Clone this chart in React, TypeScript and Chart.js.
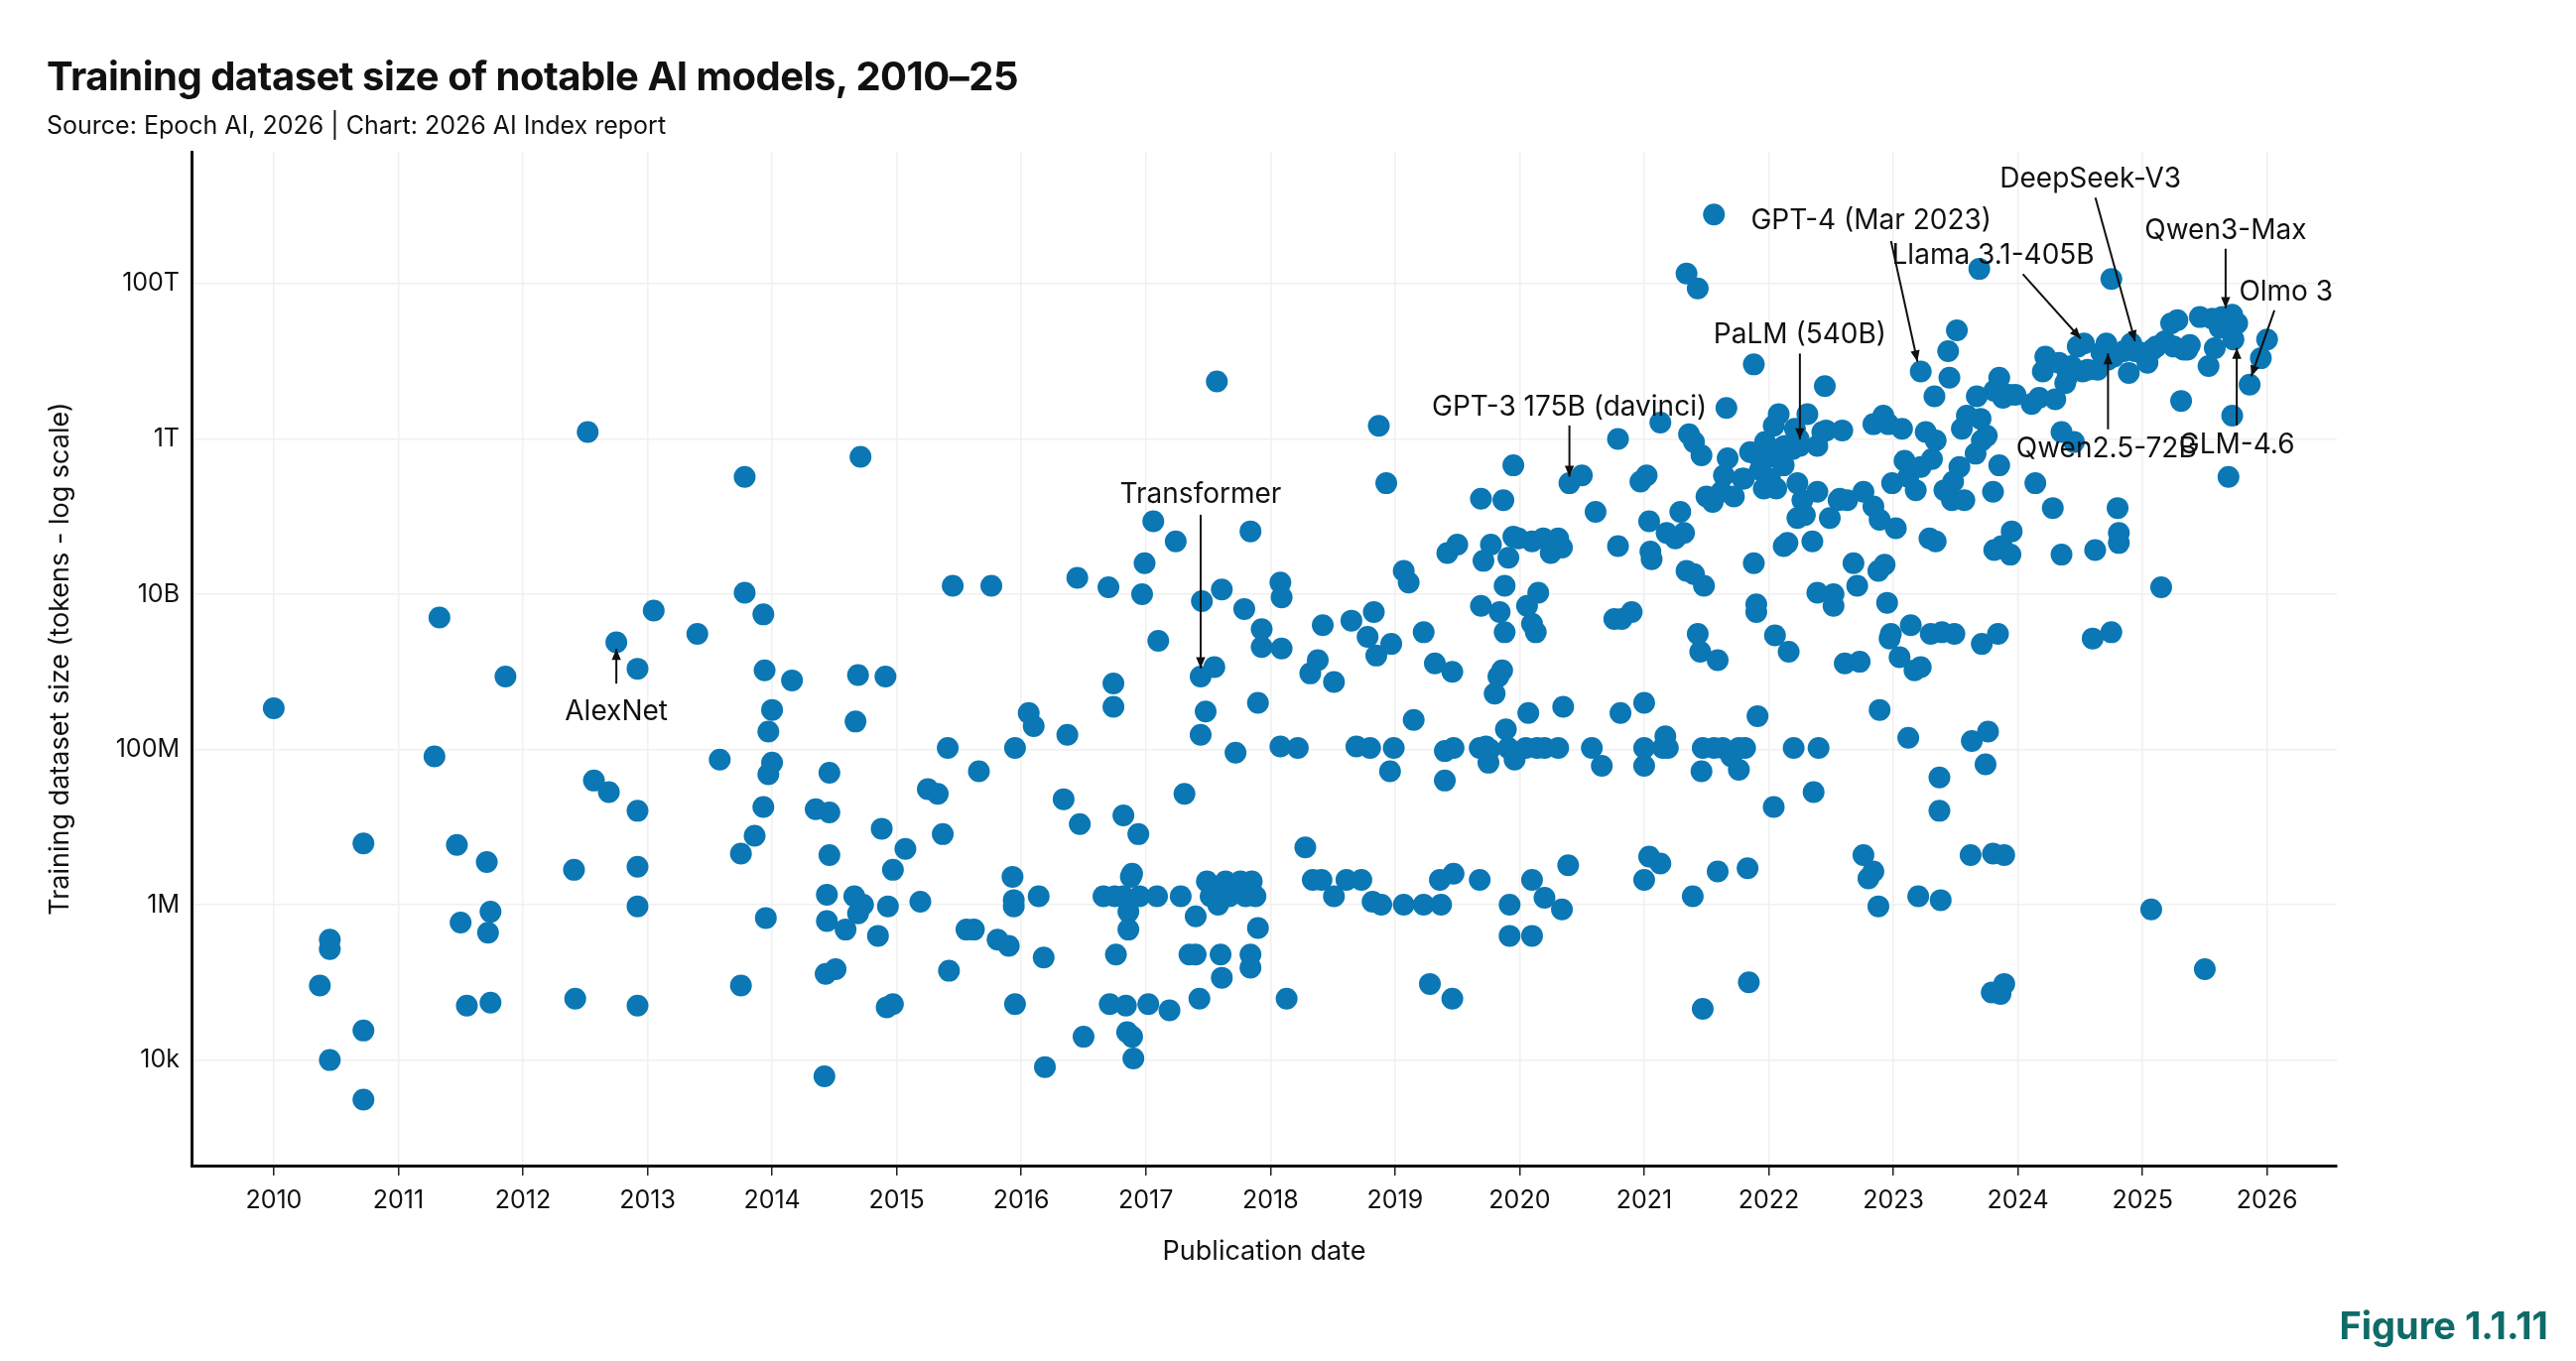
import React, { useEffect, useRef } from "react";
import { Chart, registerables } from "chart.js";
Chart.register(...registerables);

// publication year (decimal) and log10(training tokens)
const years: number[] = [
2010.0,2010.37,2010.45,2010.45,2010.45,2010.72,2010.72,2010.72,
2011.29,2011.33,2011.47,2011.5,2011.55,2011.71,2011.72,2011.74,2011.74,2011.86,
2012.41,2012.42,2012.52,2012.57,2012.69,2012.75,2012.92,2012.92,2012.92,2012.92,2012.92,2013.05,2013.4,2013.58,2013.75,2013.75,2013.78,2013.78,2013.86,2013.93,2013.94,2013.93,2013.95,2013.97,2013.97,2014.0,2014.0,
2014.16,2014.35,2014.42,2014.43,2014.46,2014.46,2014.46,2014.44,2014.44,2014.51,2014.59,2014.67,2014.69,2014.71,2014.66,2014.69,2014.73,2014.85,2014.88,2014.91,2014.92,2014.97,2014.93,2014.97,
2015.07,2015.19,2015.25,2015.33,2015.37,2015.42,2015.41,2015.45,2015.56,2015.62,2015.66,2015.76,2015.81,2015.9,2015.93,2015.94,2015.94,2015.95,2015.95,
2016.06,2016.1,2016.14,2016.18,2016.19,2016.34,2016.37,2016.45,2016.47,2016.5,2016.66,2016.7,2016.74,2016.74,2016.71,2016.75,2016.76,2016.82,2016.82,2016.84,2016.85,2016.86,2016.86,2016.88,2016.89,2016.89,2016.9,2016.94,2016.95,2016.97,2016.99,
2017.02,2017.06,2017.1,2017.09,2017.19,2017.24,2017.31,2017.28,2017.35,2017.4,2017.4,2017.43,2017.44,2017.44,2017.45,2017.48,2017.49,2017.52,2017.55,2017.57,2017.58,2017.61,2017.6,2017.61,2017.64,2017.67,2017.72,2017.76,2017.79,2017.8,2017.84,2017.84,2017.84,2017.85,2017.88,2017.9,2017.9,2017.93,2017.93,
2018.08,2018.09,2018.08,2018.09,2018.13,2018.22,2018.28,2018.32,2018.34,2018.38,2018.41,2018.42,2018.51,2018.51,2018.61,2018.65,2018.69,2018.73,2018.78,2018.8,2018.82,2018.83,2018.85,2018.87,2018.89,2018.93,2018.97,2018.96,2018.99,
2019.07,2019.07,2019.11,2019.15,2019.23,2019.23,2019.28,2019.32,2019.36,2019.37,2019.4,2019.4,2019.42,2019.46,2019.46,2019.47,2019.47,2019.5,2019.68,2019.68,2019.69,2019.69,2019.71,2019.73,2019.75,2019.76,2019.77,2019.8,2019.84,2019.83,2019.86,2019.87,2019.88,2019.88,2019.89,2019.91,2019.91,2019.92,2019.92,2019.95,2019.95,2019.96,2019.99,
2020.05,2020.06,2020.07,2020.1,2020.1,2020.1,2020.1,2020.13,2020.14,2020.15,2020.19,2020.2,2020.2,2020.25,2020.31,2020.31,2020.34,2020.34,2020.35,2020.39,2020.4,2020.5,2020.58,2020.61,2020.66,2020.76,2020.79,2020.81,2020.79,2020.82,2020.9,2020.97,
2021.0,2021.0,2021.0,2021.0,2021.02,2021.04,2021.04,2021.05,2021.06,2021.13,2021.13,2021.15,2021.17,2021.18,2021.19,2021.25,2021.29,2021.34,2021.32,2021.34,2021.36,2021.39,2021.4,2021.4,2021.43,2021.43,2021.45,2021.46,2021.46,2021.47,2021.47,2021.48,2021.5,2021.55,2021.56,2021.56,2021.59,2021.59,2021.62,2021.63,2021.64,2021.66,2021.67,2021.7,2021.72,2021.76,2021.76,2021.79,2021.8,2021.81,2021.83,2021.84,2021.85,2021.88,2021.88,2021.9,2021.9,2021.91,2021.91,2021.93,2021.96,2021.97,
2022.01,2022.03,2022.04,2022.04,2022.05,2022.06,2022.08,2022.11,2022.12,2022.12,2022.13,2022.15,2022.16,2022.19,2022.2,2022.21,2022.23,2022.23,2022.24,2022.25,2022.27,2022.29,2022.31,2022.35,2022.36,2022.39,2022.39,2022.4,2022.39,2022.43,2022.45,2022.46,2022.49,2022.52,2022.52,2022.56,2022.57,2022.59,2022.61,2022.63,2022.68,2022.71,2022.73,2022.76,2022.76,2022.8,2022.84,2022.84,2022.84,2022.88,2022.88,2022.89,2022.89,2022.92,2022.93,2022.95,2022.96,2022.97,2022.98,2022.99,
2023.02,2023.05,2023.07,2023.09,2023.12,2023.12,2023.14,2023.17,2023.18,2023.2,2023.22,2023.22,2023.22,2023.26,2023.29,2023.3,2023.31,2023.33,2023.34,2023.34,2023.37,2023.37,2023.38,2023.39,2023.41,2023.44,2023.45,2023.47,2023.48,2023.49,2023.51,2023.53,2023.55,2023.57,2023.59,2023.62,2023.63,2023.66,2023.67,2023.69,2023.7,2023.71,2023.71,2023.74,2023.75,2023.76,2023.79,2023.8,2023.8,2023.81,2023.81,2023.84,2023.85,2023.85,2023.86,2023.87,2023.88,2023.89,2023.89,2023.93,2023.94,2023.95,2023.98,
2024.11,2024.14,2024.17,2024.2,2024.22,2024.28,2024.3,2024.33,2024.35,2024.35,2024.38,2024.4,2024.43,2024.45,2024.48,2024.52,2024.53,2024.56,2024.6,2024.62,2024.64,2024.67,2024.71,2024.72,2024.75,2024.75,2024.77,2024.8,2024.81,2024.81,2024.85,2024.89,2024.91,2024.94,2024.99,
2025.04,2025.07,2025.08,2025.11,2025.15,2025.18,2025.23,2025.25,2025.28,2025.31,2025.33,2025.36,2025.38,2025.46,2025.5,2025.53,2025.56,2025.58,2025.62,2025.64,2025.69,2025.72,2025.72,2025.73,2025.76,2025.86,2025.95,2026.0
];
const logTokens: number[] = [
8.53,4.96,5.43,5.55,4.0,6.79,4.38,3.49,
7.91,9.7,6.77,5.77,4.7,6.55,5.64,5.91,4.74,8.94,
6.45,4.79,12.09,7.6,7.45,9.38,9.04,7.21,6.49,5.98,4.7,9.79,9.49,7.87,4.96,6.66,11.51,10.02,6.89,9.74,9.02,7.26,5.83,8.23,7.68,8.51,7.83,
8.89,7.23,3.79,5.11,6.64,7.7,7.19,6.13,5.79,5.17,5.68,8.36,8.96,11.77,6.11,5.89,6.0,5.6,6.98,8.94,4.68,4.72,5.98,6.45,
6.72,6.04,7.49,7.43,6.91,5.15,8.02,10.11,5.68,5.68,7.72,10.11,5.55,5.47,6.36,6.06,5.98,4.72,8.02,
8.47,8.3,6.11,5.32,3.91,7.36,8.19,10.21,7.04,4.3,6.11,10.09,8.85,8.55,4.72,6.11,5.36,7.15,6.11,4.7,4.36,5.91,5.68,6.36,6.4,4.3,4.02,6.91,6.11,10.0,10.4,
4.72,10.94,9.4,6.11,4.64,10.68,7.43,6.11,5.36,5.36,5.85,4.79,8.19,8.94,9.91,8.49,6.3,6.11,9.06,12.74,6.0,10.06,5.36,5.06,6.3,6.11,7.96,6.3,9.81,6.11,10.81,5.36,5.19,6.3,6.11,5.7,8.6,9.55,9.32,
10.15,9.96,8.04,9.3,4.79,8.02,6.74,8.98,6.32,9.15,6.32,9.6,8.87,6.11,6.32,9.66,8.04,6.32,9.45,8.02,6.04,9.77,9.21,12.17,6.0,11.43,9.36,7.72,8.02,
6.0,10.3,10.15,8.38,9.51,6.0,4.98,9.11,6.32,6.0,7.6,7.98,10.53,4.79,9.0,6.4,8.02,10.64,6.32,8.02,9.85,11.23,10.43,8.04,7.83,8.0,10.64,8.72,9.77,8.94,9.02,11.21,10.11,9.51,8.26,10.47,8.02,6.0,5.6,11.66,10.74,7.87,10.72,
8.02,9.85,8.47,5.6,10.68,9.62,6.32,9.51,8.02,10.02,10.72,8.02,6.09,10.53,10.72,8.02,5.94,10.6,8.55,6.51,11.43,11.53,8.02,11.06,7.79,9.68,12.0,8.47,10.62,9.68,9.77,11.45,
8.02,7.79,6.32,8.6,11.53,10.94,6.62,10.55,10.45,6.53,12.21,8.02,8.17,10.79,8.02,10.72,11.06,14.13,10.79,10.3,12.06,6.11,11.96,10.26,13.94,9.49,9.26,11.79,7.72,4.66,8.02,10.11,11.26,11.19,14.89,8.02,9.15,6.43,11.32,8.02,11.53,12.4,11.75,7.91,11.26,8.02,7.74,11.49,11.49,8.02,6.47,5.0,11.83,12.96,10.4,9.77,9.87,11.79,8.43,11.6,11.36,11.96,
11.49,11.77,7.26,12.17,9.47,11.36,12.32,11.89,10.62,11.66,11.91,10.66,9.26,11.87,8.02,12.13,11.43,10.98,12.0,11.91,11.21,11.02,12.32,10.68,7.45,11.91,11.32,8.02,10.02,12.09,12.68,12.11,10.98,10.0,9.85,11.21,11.23,12.11,9.11,11.21,10.4,10.11,9.13,11.32,6.64,6.34,12.19,11.13,6.43,10.3,5.98,8.51,10.96,12.3,10.38,9.89,12.19,9.43,9.49,11.43,
10.85,9.19,12.13,11.72,11.51,8.15,9.6,9.02,11.34,6.11,12.87,11.64,9.06,12.09,10.72,9.49,11.74,12.55,11.98,10.68,7.21,7.64,6.06,9.51,11.34,13.13,12.79,11.21,11.45,9.49,13.4,11.64,12.13,11.21,12.3,6.64,8.11,11.81,12.55,14.19,12.26,9.36,11.98,7.81,12.04,8.23,4.87,11.32,6.66,12.62,10.57,9.49,12.79,11.66,4.85,10.62,12.53,4.98,6.64,12.57,10.51,10.81,12.57,
12.45,11.43,12.53,12.87,13.06,11.11,12.51,12.98,10.51,12.09,12.72,12.81,12.94,11.96,13.19,12.87,13.23,12.89,9.43,10.57,12.89,13.11,13.23,13.02,14.06,9.51,13.06,11.11,10.66,10.79,13.13,12.85,13.23,13.13,13.11,
12.98,5.94,13.15,13.19,10.09,13.26,13.49,13.19,13.53,12.49,13.15,13.15,13.21,13.57,5.17,12.94,13.55,13.17,13.43,13.57,11.51,13.6,12.3,13.28,13.49,12.7,13.04,13.28
];

const yTickValues = [1e4, 1e6, 1e8, 1e10, 1e12, 1e14];
const yTickLabels = ["10k", "1M", "100M", "10B", "1T", "100T"];
const xTickYears = [2010,2011,2012,2013,2014,2015,2016,2017,2018,2019,2020,2021,2022,2023,2024,2025,2026];

// annotated models: target point (year, log10 tokens)
const annotationNames = ["AlexNet","Transformer","GPT-3 175B (davinci)","PaLM (540B)","GPT-4 (Mar 2023)","Llama 3.1-405B","DeepSeek-V3","Qwen3-Max","Olmo 3","GLM-4.6","Qwen2.5-72B"];
const annotationYears = [2012.75,2017.44,2020.4,2022.25,2023.22,2024.53,2024.94,2025.72,2025.86,2025.73,2024.71];
const annotationLogs = [9.38,8.94,11.43,11.91,12.87,13.23,13.13,13.6,12.7,13.28,13.23];

const S = 1.664;
// label offsets [textDx, textDy, lineStartDx, lineStartDy, lineEndDx, lineEndDy] in reference px
const annotationLayout = [
  [0, 42, 0, 25, 0, 4],
  [0, -110, 0, -98, 0, -5],
  [0, -46, 0, -35, 0, -4],
  [0, -67, 0, -56, 0, -4],
  [-30, -91, -18, -79, -2, -6],
  [-55, -53, -37, -42, -2, -3],
  [-27, -104, -24, -93, 0, -6],
  [-4, -51, -4, -40, -4, -4],
  [22, -56, 15, -45, 1, -5],
  [2, 64, 2, 52, 2, 5],
  [0, 64, 1, 52, 1, 6],
];

const annotPlugin = {
  id: "annot",
  afterDatasetsDraw(chart: any) {
    const ctx = chart.ctx;
    const xs = chart.scales.x, ys = chart.scales.y;
    ctx.save();
    ctx.font = `${Math.round(17 * S)}px Inter, "Noto Sans", sans-serif`;
    ctx.fillStyle = "#111";
    ctx.strokeStyle = "#111";
    ctx.lineWidth = 2;
    ctx.textAlign = "center";
    ctx.textBaseline = "middle";
    annotationNames.forEach((name, i) => {
      const px = xs.getPixelForValue(annotationYears[i]);
      const py = ys.getPixelForValue(Math.pow(10, annotationLogs[i]));
      const L = annotationLayout[i];
      ctx.fillText(name, px + L[0] * S, py + L[1] * S);
      const x1 = px + L[2] * S, y1 = py + L[3] * S, x2 = px + L[4] * S, y2 = py + L[5] * S;
      ctx.beginPath(); ctx.moveTo(x1, y1); ctx.lineTo(x2, y2); ctx.stroke();
      const a = Math.atan2(y2 - y1, x2 - x1), h = 12;
      ctx.beginPath();
      ctx.moveTo(x2, y2);
      ctx.lineTo(x2 - h * Math.cos(a - 0.4), y2 - h * Math.sin(a - 0.4));
      ctx.lineTo(x2 - h * Math.cos(a + 0.4), y2 - h * Math.sin(a + 0.4));
      ctx.closePath(); ctx.fill();
    });
    ctx.restore();
  },
};

export default function App() {
  const ref = useRef<HTMLCanvasElement>(null);
  useEffect(() => {
    document.body.style.margin = "0";
    const data = years.map((y, i) => ({ x: y, y: Math.pow(10, logTokens[i]) }));
    const tickFont = { family: 'Inter, "Noto Sans", sans-serif', size: 25 };
    const chart = new Chart(ref.current!, {
      type: "scatter",
      data: { datasets: [{ data, backgroundColor: "#0b77b4", borderWidth: 0, pointRadius: 11, pointHoverRadius: 11 }] },
      options: {
        animation: false,
        responsive: false,
        layout: { padding: { top: 153, right: 241, bottom: 94, left: 45 } },
        plugins: { legend: { display: false }, tooltip: { enabled: false } },
        scales: {
          x: {
            type: "linear", min: 2009.34, max: 2026.56,
            afterBuildTicks: (s: any) => { s.ticks = xTickYears.map(v => ({ value: v })); },
            afterFit: (s: any) => { s.height = 103; },
            ticks: { color: "#111", font: tickFont, callback: (v: any) => String(v), padding: 10, maxRotation: 0 },
            grid: { color: "#f0f0f0", lineWidth: 1.5, tickLength: 10, tickColor: "#222", drawOnChartArea: true },
            border: { color: "#111", width: 3 },
            title: { display: true, text: "Publication date", color: "#111", font: { ...tickFont, size: 27 }, padding: 0 },
          },
          y: {
            type: "logarithmic", min: 437, max: 5e15,
            afterBuildTicks: (s: any) => { s.ticks = yTickValues.map(v => ({ value: v })); },
            afterFit: (s: any) => { s.width = 148; },
            ticks: { color: "#111", font: tickFont, padding: 12, callback: (v: any) => { const i = yTickValues.findIndex(t => Math.abs(Math.log10(t) - Math.log10(v)) < 0.01); return i >= 0 ? yTickLabels[i] : ""; } },
            grid: { color: "#f0f0f0", lineWidth: 1.5, tickLength: 0 },
            border: { color: "#111", width: 3 },
            title: { display: true, text: "Training dataset size (tokens - log scale)", color: "#111", font: { ...tickFont, size: 27 }, padding: 0 },
          },
        },
      },
      plugins: [annotPlugin],
    } as any);
    return () => chart.destroy();
  }, []);
  const font = 'Inter, "Noto Sans", sans-serif';
  return (
    <div style={{ position: "relative", width: 2596, height: 1372, background: "#fff", overflow: "hidden" }}>
      <canvas ref={ref} width={2596} height={1372} style={{ position: "absolute", left: 0, top: 0 }} />
      <div style={{ position: "absolute", left: 47, top: 52, fontFamily: font, fontWeight: 700, fontSize: 40, color: "#111", letterSpacing: -0.5 }}>
        Training dataset size of notable AI models, 2010–25
      </div>
      <div style={{ position: "absolute", left: 47, top: 111, fontFamily: font, fontSize: 25, color: "#111" }}>
        Source: Epoch AI, 2026 | Chart: 2026 AI Index report
      </div>
      <div style={{ position: "absolute", right: 28, top: 1313, fontFamily: font, fontWeight: 700, fontSize: 38, color: "#0f6b68" }}>
        Figure 1.1.11
      </div>
    </div>
  );
}
